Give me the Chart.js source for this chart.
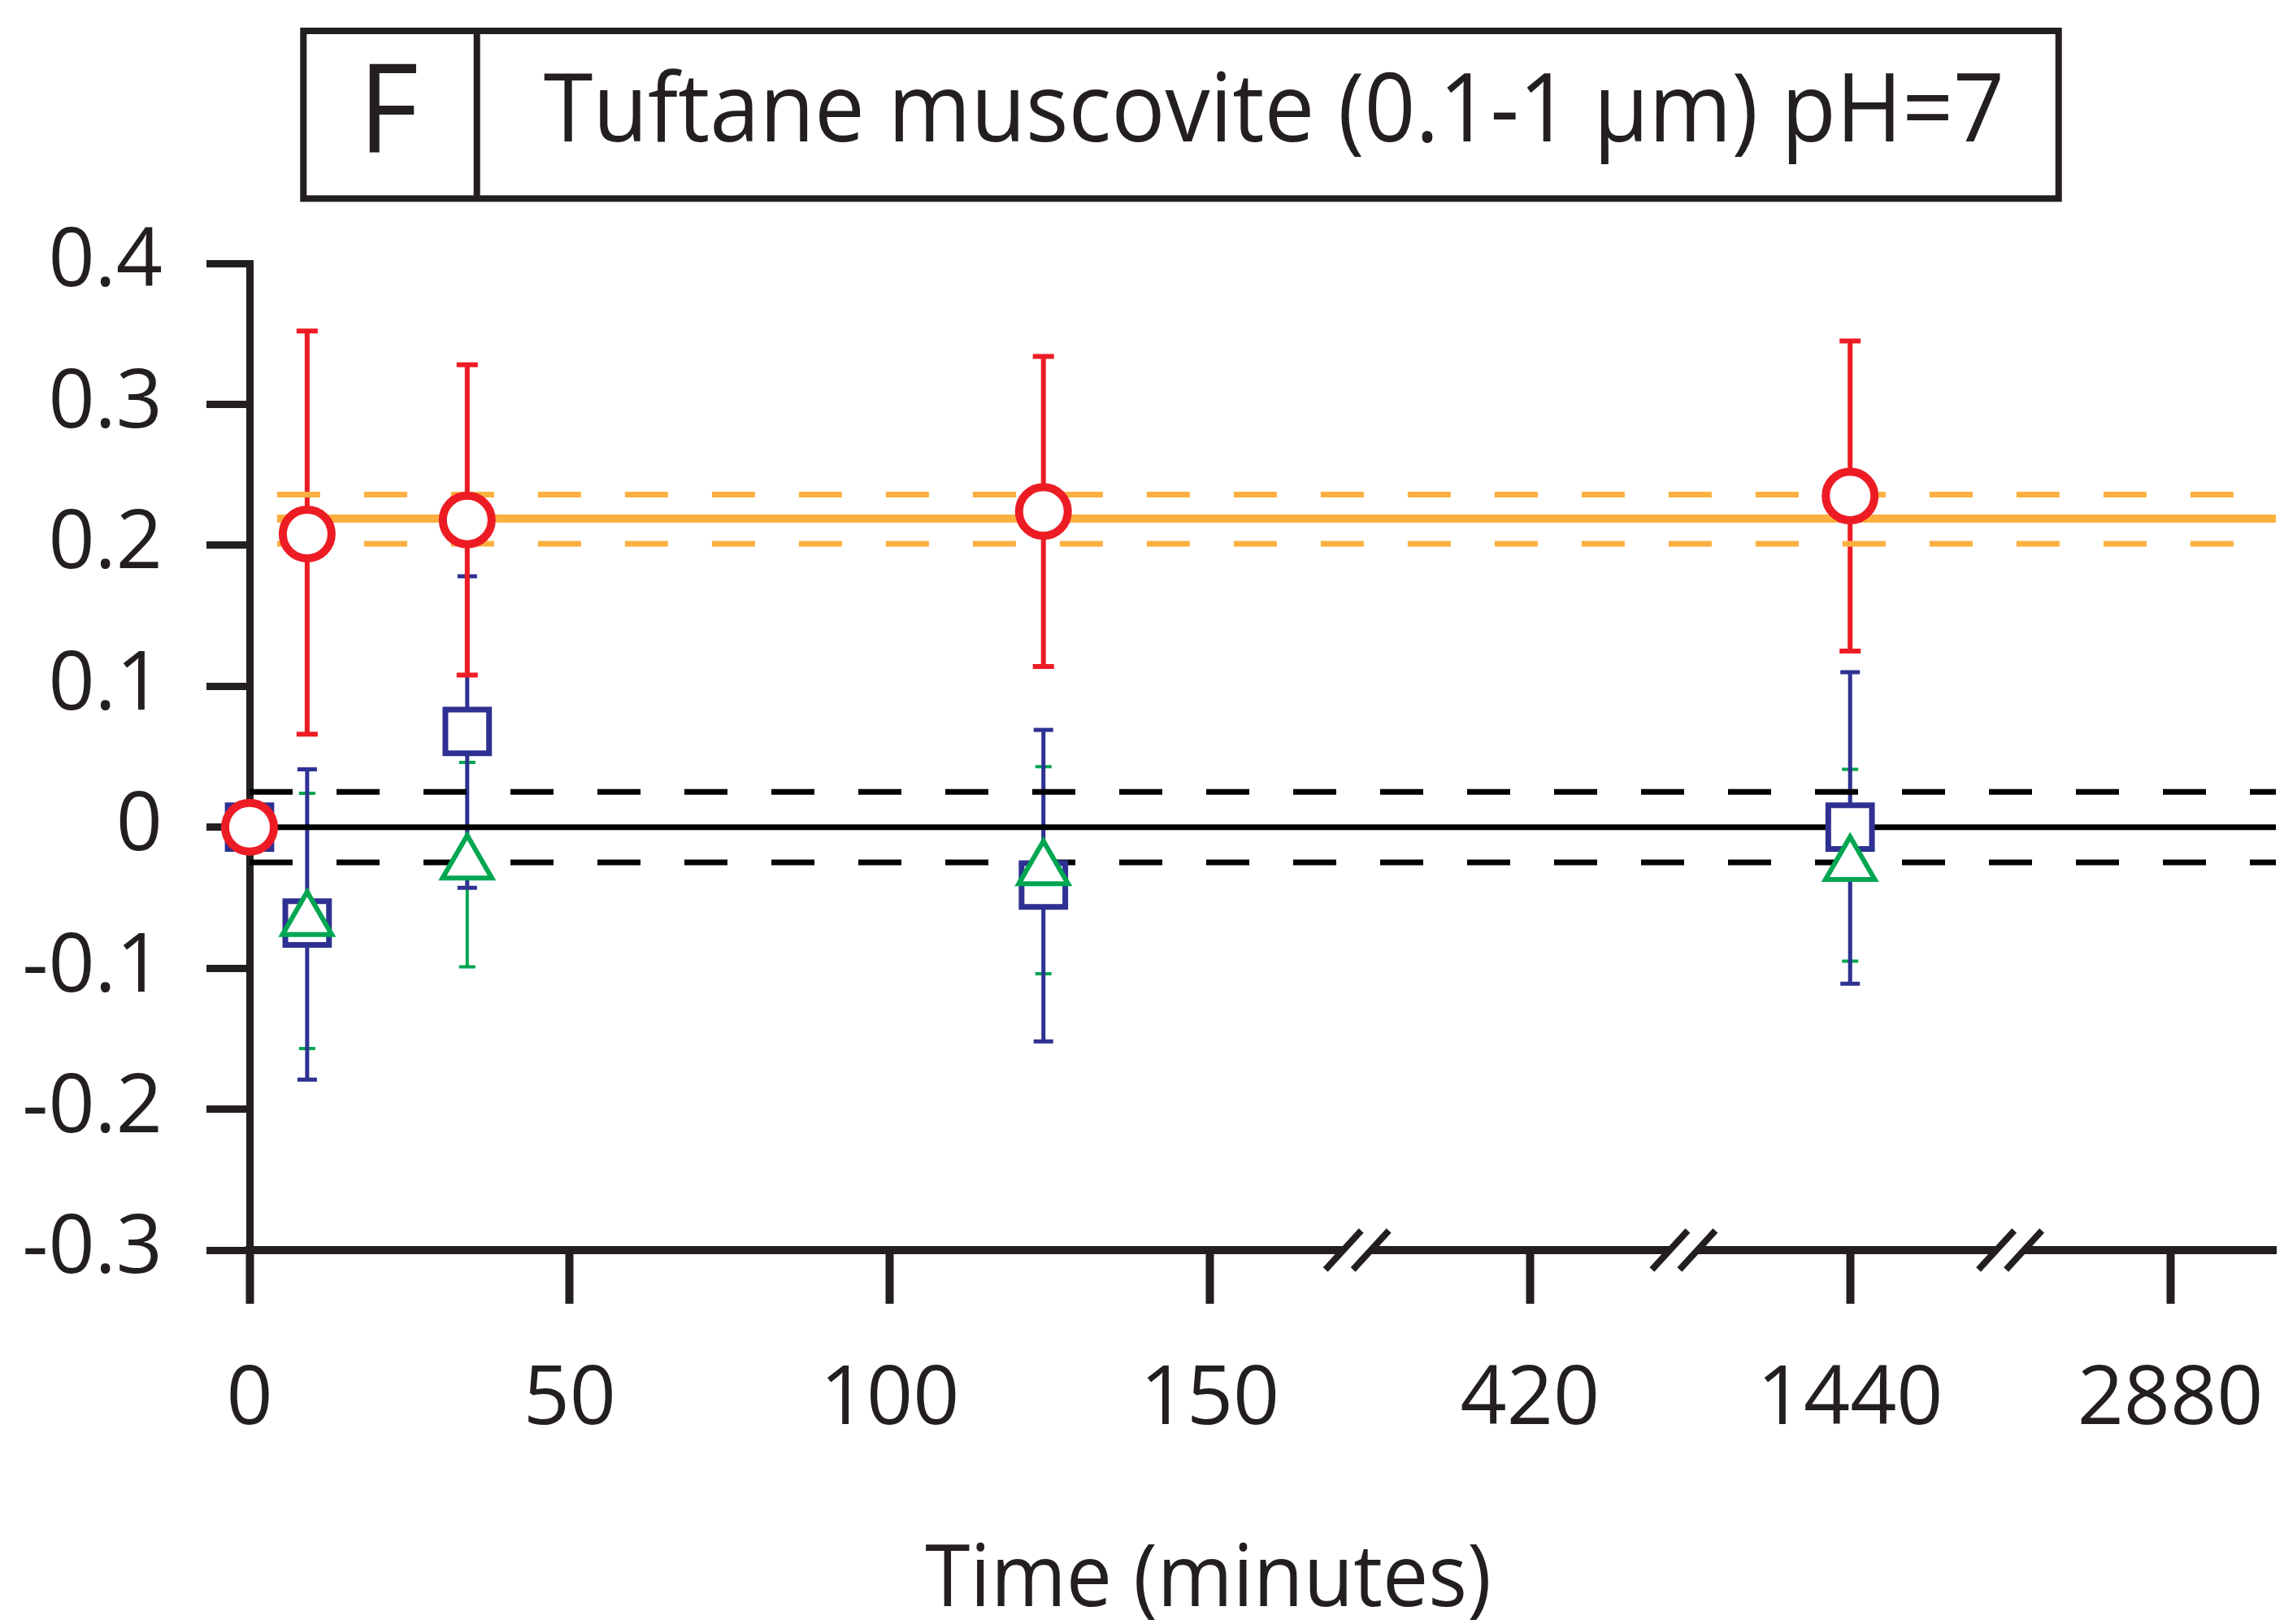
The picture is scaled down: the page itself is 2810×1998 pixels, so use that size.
<!DOCTYPE html>
<html>
<head>
<meta charset="utf-8">
<script src="https://cdn.jsdelivr.net/npm/chart.js@4.4.0/dist/chart.umd.min.js"></script>
<style>
  html, body { margin: 0; padding: 0; background: #ffffff; }
  canvas { display: block; }
</style>
</head>
<body>
<canvas id="chart" width="2810" height="1998"></canvas>
<script>
// ---------------- data ----------------
const panelLetter = 'F';
const panelTitle = 'Tuftane muscovite (0.1-1 μm) pH=7';
const xAxisTitle = 'Time (minutes)';

const times = [0, 9, 34, 124, 1440];               // minutes

const circleValues  = [0, 0.208, 0.218, 0.224, 0.235];
const circleErrHigh = [null, 0.352, 0.328, 0.334, 0.345];
const circleErrLow  = [null, 0.066, 0.108, 0.114, 0.125];

const squareValues  = [0, -0.068, 0.068, -0.041, 0.000];
const squareErrHigh = [null, 0.041, 0.178, 0.069, 0.110];
const squareErrLow  = [null, -0.179, -0.043, -0.152, -0.111];

const triangleValues  = [null, -0.066, -0.026, -0.030, -0.027];
const triangleErrHigh = [null, 0.024, 0.046, 0.043, 0.041];
const triangleErrLow  = [null, -0.157, -0.099, -0.104, -0.095];

const orangeBand = [0.201, 0.219, 0.236];   // lower, mean, upper
const blackBand  = [-0.025, 0, 0.025];      // lower, mean, upper
const orangeStartTime = 4.3;
const blackStartTime = 0;

const xTickTimes  = [0, 50, 100, 150, 420, 1440, 2880];
const xTickLabels = ['0', '50', '100', '150', '420', '1440', '2880'];
const yTickValues = [-0.3, -0.2, -0.1, 0, 0.1, 0.2, 0.3, 0.4];
const yTickLabels = ['-0.3', '-0.2', '-0.1', '0', '0.1', '0.2', '0.3', '0.4'];

// ---------------- broken time axis ----------------
const linearLimit = 150;                    // 0..150 min is linear
const brokenTimes = [420, 1440, 2880];      // each placed one step further
const brokenAxisPos = [200, 250, 300];
const breakMarkPos = [173, 224, 275];
const axisEndPos = 316.5;

function timeToAxis(t) {
  if (t <= linearLimit) return t;
  const i = brokenTimes.indexOf(t);
  return i >= 0 ? brokenAxisPos[i] : t;
}

// ---------------- styles ----------------
const INK = '#231F20';
const RED = '#ED1C24';
const BLUE = '#2E3192';
const GREEN = '#00A651';
const ORANGE = '#FBB040';

function points(vals, hi, lo) {
  const out = [];
  times.forEach((t, i) => {
    if (vals[i] === null) return;
    out.push({ x: timeToAxis(t), y: vals[i], hi: hi[i], lo: lo[i] });
  });
  return out;
}
function hline(y, startTime) {
  return [{ x: timeToAxis(startTime), y: y }, { x: axisEndPos, y: y }];
}

const refLine = (label, data, color, width, dash) => ({
  type: 'scatter', label, data, showLine: true, borderColor: color,
  borderWidth: width, borderDash: dash, pointRadius: 0, pointHoverRadius: 0,
  fill: false, order: 10, borderCapStyle: 'butt'
});

const datasets = [
  refLine('orange lower', hline(orangeBand[0], orangeStartTime), ORANGE, 7, [53, 54]),
  refLine('orange upper', hline(orangeBand[2], orangeStartTime), ORANGE, 7, [53, 54]),
  refLine('orange mean',  hline(orangeBand[1], orangeStartTime), ORANGE, 10, []),
  refLine('black lower',  hline(blackBand[0], blackStartTime), '#000000', 7, [53, 54]),
  refLine('black upper',  hline(blackBand[2], blackStartTime), '#000000', 7, [53, 54]),
  refLine('black mean',   hline(blackBand[1], blackStartTime), '#000000', 7, []),
  {
    type: 'scatter', label: 'Squares',
    data: points(squareValues, squareErrHigh, squareErrLow),
    pointStyle: 'rect', pointRadius: 38, borderWidth: 7,
    borderColor: BLUE, backgroundColor: '#ffffff',
    clip: false, order: 3,
    errorBar: { color: BLUE, width: 5, cap: 12, rank: 2 }
  },
  {
    type: 'scatter', label: 'Triangles',
    data: points(triangleValues, triangleErrHigh, triangleErrLow),
    pointStyle: 'triangle', pointRadius: 35, borderWidth: 6,
    borderColor: GREEN, backgroundColor: '#ffffff',
    clip: false, order: 2,
    errorBar: { color: GREEN, width: 4, cap: 10, rank: 1 }
  },
  {
    type: 'scatter', label: 'Circles',
    data: points(circleValues, circleErrHigh, circleErrLow),
    pointStyle: 'circle', pointRadius: 30, borderWidth: 10,
    borderColor: RED, backgroundColor: '#ffffff',
    clip: false, order: 1,
    errorBar: { color: RED, width: 6, cap: 13, rank: 3 }
  }
];

// ---------------- plugins ----------------
const errorBarPlugin = {
  id: 'errorBars',
  beforeDatasetsDraw(chart) {
    const ctx = chart.ctx;
    const xs = chart.scales.x, ys = chart.scales.y;
    const list = chart.data.datasets.filter(d => d.errorBar)
      .sort((a, b) => a.errorBar.rank - b.errorBar.rank);
    ctx.save();
    list.forEach(ds => {
      const eb = ds.errorBar;
      ctx.strokeStyle = eb.color;
      ctx.lineWidth = eb.width;
      ctx.lineCap = 'butt';
      ds.data.forEach(p => {
        if (p.hi === null || p.lo === null) return;
        const x = xs.getPixelForValue(p.x);
        const yh = ys.getPixelForValue(p.hi);
        const yl = ys.getPixelForValue(p.lo);
        ctx.beginPath();
        ctx.moveTo(x, yh); ctx.lineTo(x, yl);
        ctx.moveTo(x - eb.cap, yh); ctx.lineTo(x + eb.cap, yh);
        ctx.moveTo(x - eb.cap, yl); ctx.lineTo(x + eb.cap, yl);
        ctx.stroke();
      });
    });
    ctx.restore();
  }
};

function fitText(ctx, text, left, right, baseline, capH) {
  const size = capH / 0.714;
  ctx.save();
  ctx.font = size + 'px "Open Sans"';
  ctx.textAlign = 'left';
  ctx.textBaseline = 'alphabetic';
  ctx.fillStyle = INK;
  const m = ctx.measureText(text);
  const ink = m.actualBoundingBoxLeft + m.actualBoundingBoxRight;
  const sx = (right - left) / ink;
  ctx.translate(left, baseline);
  ctx.scale(sx, 1);
  ctx.fillText(text, m.actualBoundingBoxLeft, 0);
  ctx.restore();
}

const decorPlugin = {
  id: 'decor',
  afterDraw(chart) {
    const ctx = chart.ctx;
    const xs = chart.scales.x;
    const yAxisLine = chart.chartArea.bottom;
    ctx.save();
    // axis breaks
    breakMarkPos.forEach(p => {
      const xc = xs.getPixelForValue(p);
      ctx.fillStyle = '#ffffff';
      ctx.fillRect(xc - 17, yAxisLine - 8, 34, 16);
      ctx.strokeStyle = INK;
      ctx.lineWidth = 8;
      ctx.lineCap = 'butt';
      [-17, 17].forEach(dx => {
        ctx.beginPath();
        ctx.moveTo(xc + dx - 22, yAxisLine + 24);
        ctx.lineTo(xc + dx + 22, yAxisLine - 24);
        ctx.stroke();
      });
    });
    // title box
    ctx.strokeStyle = INK;
    ctx.lineWidth = 8;
    ctx.strokeRect(373.3, 38, 2159.4, 206.3);
    ctx.beginPath();
    ctx.moveTo(586.7, 38); ctx.lineTo(586.7, 244.3);
    ctx.stroke();
    ctx.restore();
    fitText(ctx, panelLetter, 454, 512, 188.3, 108);
    fitText(ctx, panelTitle, 669.8, 2460.7, 174, 83.3);
    // x-axis title centred under the ticks
    fitText(ctx, xAxisTitle, 1138.3, 1831.4, 1975.7, 76.4);
  }
};

// ---------------- chart ----------------
Chart.defaults.font.family = '"Open Sans", sans-serif';
Chart.defaults.color = INK;

new Chart(document.getElementById('chart'), {
  type: 'scatter',
  data: { datasets },
  options: {
    responsive: false,
    animation: false,
    events: [],
    layout: { padding: { top: 324, right: 10, bottom: 0, left: 0 }, autoPadding: false },
    plugins: { legend: { display: false }, tooltip: { enabled: false }, title: { display: false } },
    scales: {
      x: {
        type: 'linear', min: 0, max: axisEndPos,
        afterFit: s => { s.height = 460; s.paddingLeft = 0; s.paddingRight = 0; },
        afterBuildTicks: s => { s.ticks = xTickTimes.map(t => ({ value: timeToAxis(t) })); },
        border: { display: true, color: INK, width: 10 },
        grid: { drawOnChartArea: false, drawTicks: true, tickLength: 66, tickWidth: 10, tickColor: INK, color: INK },
        ticks: {
          autoSkip: false, maxRotation: 0, padding: 60, color: INK,
          font: { size: 100, family: '"Open Sans"' },
          callback: (v) => {
            const i = xTickTimes.findIndex(t => timeToAxis(t) === v);
            return i >= 0 ? xTickLabels[i] : '';
          }
        }
      },
      y: {
        type: 'linear', min: -0.3, max: 0.4,
        afterFit: s => { s.width = 307; s.paddingTop = 0; s.paddingBottom = 0; },
        afterBuildTicks: s => { s.ticks = yTickValues.map(v => ({ value: v })); },
        border: { display: true, color: INK, width: 9 },
        grid: { drawOnChartArea: false, drawTicks: true, tickLength: 53, tickWidth: 9, tickColor: INK, color: INK },
        ticks: {
          padding: 54, color: INK,
          font: { size: 100, family: '"Open Sans"' },
          callback: (v) => {
            const i = yTickValues.findIndex(t => Math.abs(t - v) < 1e-9);
            return i >= 0 ? yTickLabels[i] : '';
          }
        }
      }
    }
  },
  plugins: [errorBarPlugin, decorPlugin]
});
</script>
</body>
</html>
